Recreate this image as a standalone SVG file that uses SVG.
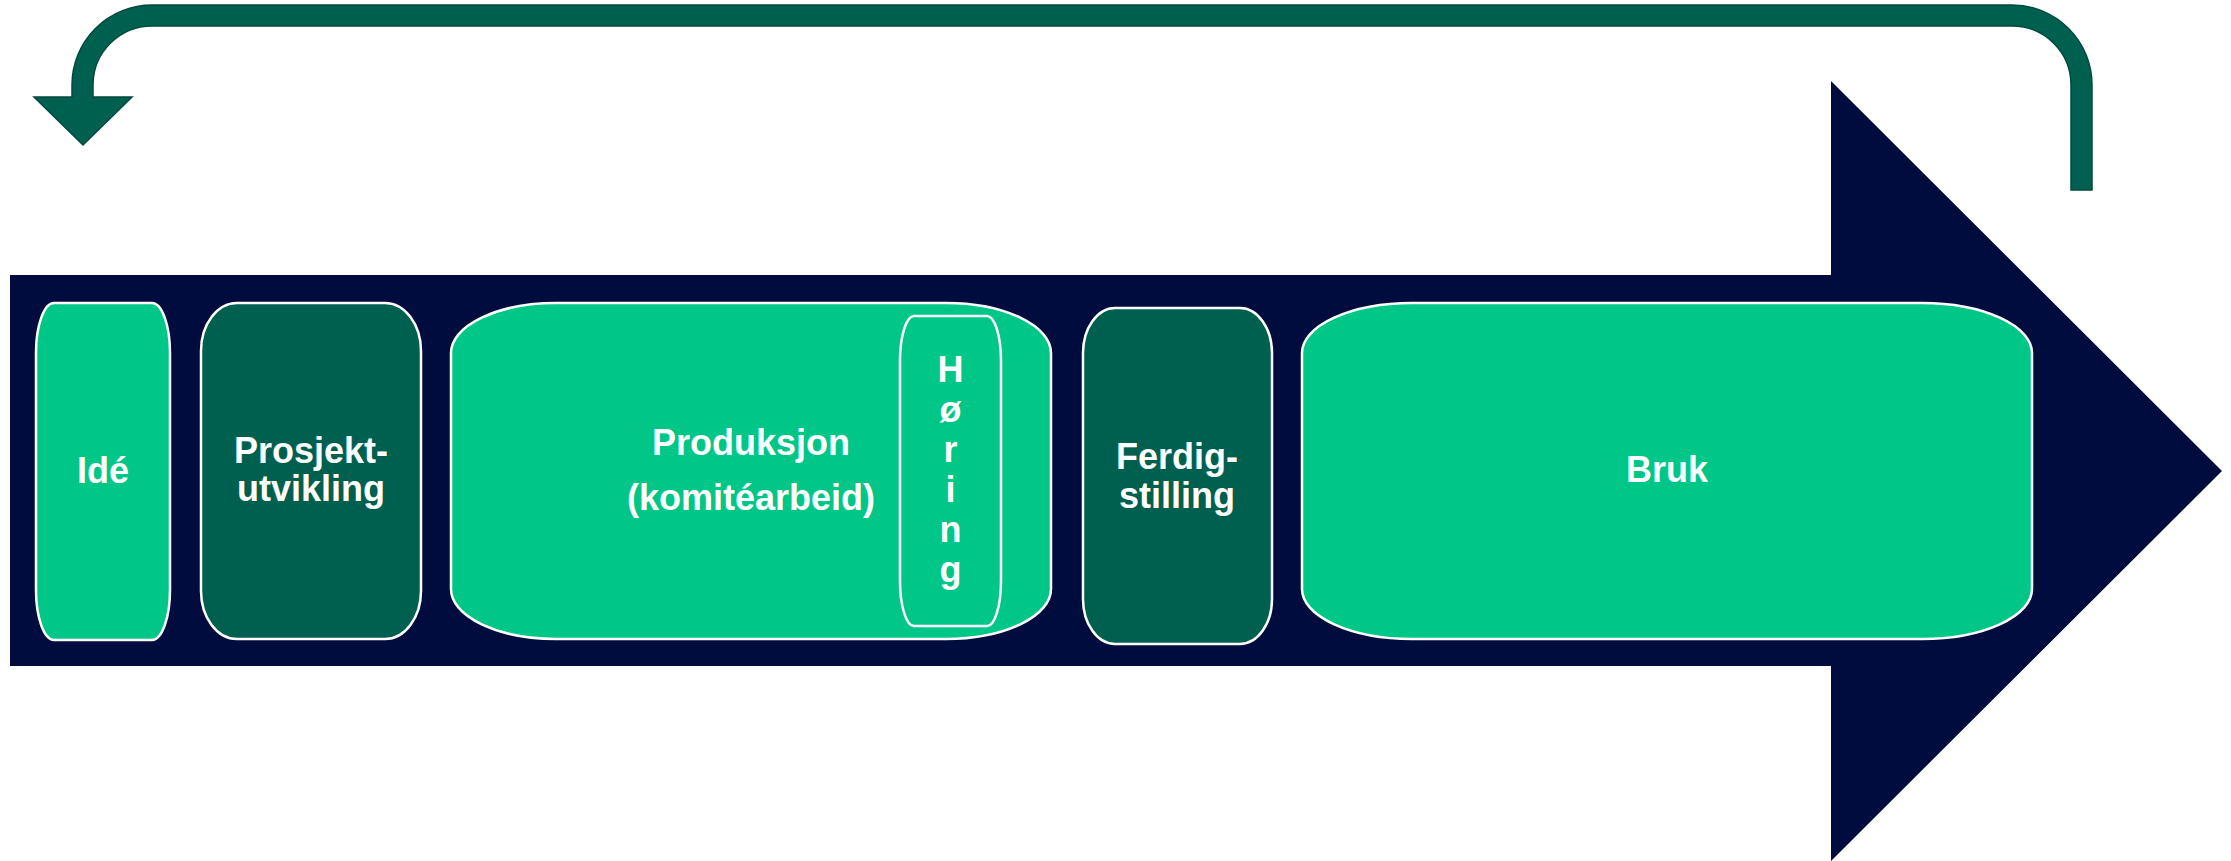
<svg xmlns="http://www.w3.org/2000/svg" width="2231" height="861" viewBox="0 0 2231 861">
<style>
.light{fill:#00c688;stroke:#ffffff;stroke-width:2.5}
.dark{fill:#00604f;stroke:#ffffff;stroke-width:2.5}
.t{font-family:"Liberation Sans",Arial,Helvetica,sans-serif;font-weight:bold;font-size:36px;fill:#ffffff;text-anchor:middle}
</style>
<rect width="2231" height="861" fill="#ffffff"/>
<g id="main-arrow">
<polygon points="10,275 1831,275 1831,81 2222,471 1831,861 1831,666 10,666" fill="#000c3e"/>
</g>
<g id="connectors">
<path d="M2071,190 L2071,85 A59,59 0 0 0 2012,26 L152,26 A59,59 0 0 0 93,85 L93,97 L132,97 L83,145 L34,97 L72,97 L72,85 A80,80 0 0 1 152,5 L2012,5 A80,80 0 0 1 2092,85 L2092,190 Z" fill="#00604f" stroke="#004a3c" stroke-width="1.5"/>
</g>
<g id="node-ide">
<rect class="light" x="36" y="303" width="134" height="337" rx="18" ry="50"/>
<text class="t" x="103" y="483">Idé</text>
</g>
<g id="node-prosjektutvikling">
<rect class="dark" x="201" y="303" width="220" height="336" rx="36" ry="48"/>
<text class="t" x="311" y="463">Prosjekt-</text>
<text class="t" x="311" y="501">utvikling</text>
</g>
<g id="node-produksjon">
<rect class="light" x="451" y="303" width="600" height="336" rx="105" ry="50"/>
<text class="t" x="751" y="455">Produksjon</text>
<text class="t" x="751" y="510">(komitéarbeid)</text>
</g>
<g id="node-horing">
<rect class="light" x="900" y="316" width="101" height="310" rx="14" ry="45"/>
<text class="t" x="950.5" y="382">H</text>
<text class="t" x="950.5" y="422">ø</text>
<text class="t" x="950.5" y="462">r</text>
<text class="t" x="950.5" y="502">i</text>
<text class="t" x="950.5" y="542">n</text>
<text class="t" x="950.5" y="582">g</text>
</g>
<g id="node-ferdigstilling">
<rect class="dark" x="1083" y="308" width="189" height="336" rx="32" ry="45"/>
<text class="t" x="1177" y="469">Ferdig-</text>
<text class="t" x="1177" y="508">stilling</text>
</g>
<g id="node-bruk">
<rect class="light" x="1302" y="303" width="730" height="336" rx="110" ry="50"/>
<text class="t" x="1667" y="482">Bruk</text>
</g>
</svg>
